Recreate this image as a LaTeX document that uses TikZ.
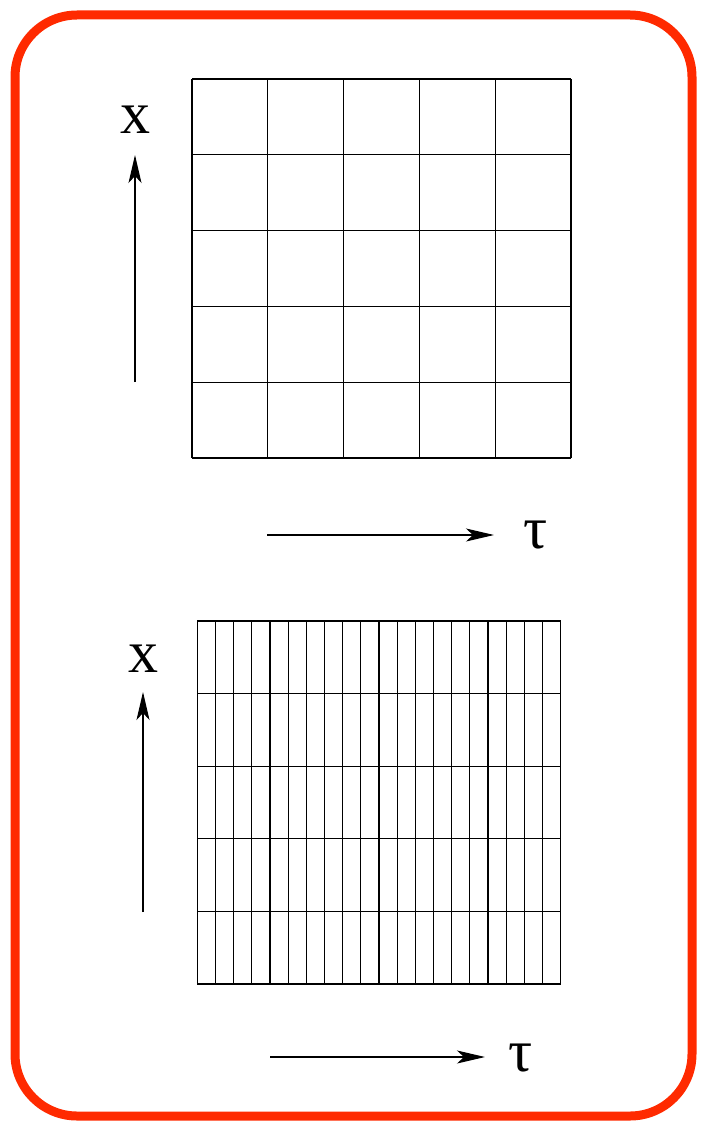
\documentclass[tikz,border=0pt]{standalone}
\usepackage{fontspec}
\setmainfont{Liberation Serif}
\usetikzlibrary{arrows.meta}
\definecolor{Ink}{HTML}{000000}
\definecolor{Crayon}{HTML}{FF2A00}
\tikzset{
  gridline/.style={draw=Ink,line width=1.1pt},
  axis/.style={-{Stealth[length=28pt,width=13pt,inset=7pt]},line width=1.1pt,draw=Ink},
  axislabel/.style={text=Ink,inner sep=0pt,font=\fontsize{60}{60}\selectfont},
  frame/.style={draw=Crayon,line width=9pt,rounded corners=62pt}
}
\begin{document}
\begin{tikzpicture}[x=1pt,y=-1pt]
\useasboundingbox (0,0) rectangle (706,1129);
\draw[frame] (15,15) rectangle (692,1116);
% coarse grid
\foreach \i in {0,...,5}{
  \draw[gridline] ({192+75.8*\i},79) -- ({192+75.8*\i},458);
  \draw[gridline] (192,{79+75.8*\i}) -- (571,{79+75.8*\i});
}
\coordinate (xtailA) at (135,382);
\coordinate (xheadA) at (135,155);
\node[axislabel] (xA) at (135,120) {x};
\draw[axis] (xtailA) -- (xheadA);
\coordinate (ttailA) at (267,535);
\coordinate (theadA) at (494,535);
\node[axislabel] (tauA) at (536,535) {τ};
\draw[axis] (ttailA) -- (theadA);
% fine grid
\foreach \i in {0,...,20}
  \draw[gridline] ({197.3+18.17*\i},621) -- ({197.3+18.17*\i},984);
\foreach \j in {0,...,5}
  \draw[gridline] (197.3,{621+72.6*\j}) -- (560.7,{621+72.6*\j});
\coordinate (xtailB) at (143,912);
\coordinate (xheadB) at (143,692);
\node[axislabel] (xB) at (143,659) {x};
\draw[axis] (xtailB) -- (xheadB);
\coordinate (ttailB) at (270,1057);
\coordinate (theadB) at (485,1057);
\node[axislabel] (tauB) at (521,1058) {τ};
\draw[axis] (ttailB) -- (theadB);
\end{tikzpicture}
\end{document}
